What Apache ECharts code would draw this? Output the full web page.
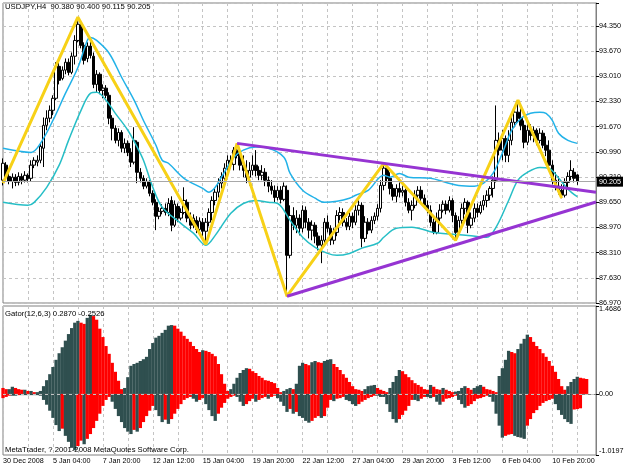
<!DOCTYPE html>
<html><head><meta charset="utf-8">
<script src="https://cdn.jsdelivr.net/npm/echarts/dist/echarts.min.js"></script>
<style>html,body{margin:0;padding:0;background:#fff}#c{width:627px;height:470px}</style>
</head><body><div id="c"></div>
<script>
// ---------- data ----------
const priceTicks = ['86.970','87.630','88.310','88.970','89.650','90.310','90.990','91.670','92.330','93.010','93.670','94.350'];
const xTickBars = [0,16,32,48,64,80,96,112,128,144,160,176];
const xTickLabels = ['30 Dec 2008','5 Jan 04:00','7 Jan 20:00','12 Jan 12:00','15 Jan 04:00','19 Jan 20:00','22 Jan 12:00','27 Jan 04:00','29 Jan 20:00','3 Feb 12:00','6 Feb 04:00','10 Feb 20:00'];
const lastPrice = 90.205;
// [open, close, low, high]
const ohlc = [
[90.24,90.69,90.10,90.82],[90.64,90.34,90.24,90.72],[90.34,90.21,90.13,90.45],[90.21,90.32,90.02,90.42],[90.32,90.18,90.08,90.40],
[90.18,90.34,90.10,90.45],[90.34,90.24,90.13,90.42],[90.24,90.37,90.18,90.48],[90.37,90.29,90.18,90.42],[90.29,90.64,90.21,90.77],
[90.64,90.77,90.56,90.85],[90.72,90.77,90.61,90.90],[90.77,91.14,90.69,91.22],[91.09,91.70,90.59,91.91],[91.70,91.89,91.57,92.10],
[91.89,92.10,91.78,92.23],[92.10,92.42,91.97,92.50],[92.42,93.27,92.37,93.38],[93.27,92.90,92.79,93.38],[92.95,93.17,92.90,93.27],
[93.17,93.38,93.06,93.48],[93.38,93.11,93.03,93.48],[93.11,93.54,93.06,93.64],[93.54,93.96,93.32,94.10],[93.96,94.39,93.91,94.58],
[94.34,93.83,93.75,94.44],[93.83,93.43,93.32,93.91],[93.48,93.81,93.38,93.91],[93.81,93.56,93.48,93.96],[93.54,92.79,92.69,93.64],
[92.79,93.06,92.58,93.17],[93.06,92.63,92.53,93.11],[92.63,92.69,92.42,92.79],[92.69,92.50,92.42,92.77],[92.50,91.89,91.73,92.58],
[91.89,91.62,91.30,91.97],[91.62,91.30,91.22,91.70],[91.30,91.51,91.14,91.62],[91.51,91.09,90.98,91.57],[91.09,91.22,90.96,91.35],
[91.22,90.98,90.88,91.30],[90.98,90.72,90.59,91.09],[90.72,91.30,90.66,91.65],[91.25,90.45,90.16,91.30],[90.45,90.29,90.18,90.56],
[90.29,90.08,90.00,90.37],[90.08,90.21,90.02,90.29],[90.21,89.89,89.81,90.24],[89.89,89.65,89.57,89.97],[89.65,89.28,88.91,89.73],
[89.28,89.41,89.20,89.52],[89.41,89.49,89.33,89.60],[89.49,89.38,89.30,89.62],[89.38,89.62,89.28,89.76],[89.70,89.04,88.88,89.81],
[89.04,89.60,88.99,89.70],[89.54,89.23,89.12,89.62],[89.23,89.38,89.17,89.49],[89.38,89.70,89.33,90.05],[89.65,89.23,89.12,89.73],
[89.23,89.04,88.93,89.38],[89.04,89.23,88.96,89.33],[89.17,88.93,88.83,89.28],[88.93,89.15,88.88,89.25],[89.12,88.88,88.75,89.23],
[88.88,89.12,88.53,89.23],[89.12,89.38,89.01,89.49],[89.38,89.70,89.17,89.81],[89.70,89.92,89.57,90.02],[89.92,90.16,89.78,90.29],
[90.16,90.34,90.02,90.45],[90.29,90.56,90.18,90.69],[90.56,90.77,90.45,90.90],[90.77,90.66,90.56,90.90],[90.66,91.04,90.50,91.12],
[91.04,90.90,90.82,91.22],[90.90,90.64,90.50,91.09],[90.64,90.50,90.32,90.90],[90.50,90.32,90.16,90.77],[90.32,90.50,90.10,90.72],
[90.50,90.64,90.37,90.90],[90.64,90.50,90.34,91.04],[90.50,90.37,90.24,90.61],[90.37,90.45,90.24,90.64],[90.45,90.24,90.08,90.56],
[90.24,90.08,89.92,90.34],[90.08,89.97,89.86,90.24],[89.97,89.78,89.65,90.10],[89.78,89.97,89.70,90.08],[89.97,89.73,89.62,90.08],
[89.73,90.08,89.68,90.18],[89.97,88.24,87.15,90.10],[88.24,89.30,88.16,89.57],[89.30,89.04,88.91,89.52],[89.04,89.23,88.83,89.44],
[89.23,88.96,88.77,89.33],[88.96,89.44,88.85,89.57],[89.44,89.12,88.96,89.54],[89.12,88.91,88.69,89.23],[88.91,89.04,88.64,89.17],
[89.04,88.75,88.56,89.12],[88.75,88.51,88.37,88.85],[88.51,88.64,88.03,88.77],[88.64,89.12,88.53,89.23],[89.12,88.96,88.85,89.30],
[88.96,88.64,88.51,89.04],[88.64,88.85,88.53,88.96],[88.85,89.30,88.75,89.44],[89.30,89.38,89.17,89.52],[89.38,89.12,89.01,89.49],
[89.12,89.01,88.91,89.23],[89.01,89.28,88.91,89.38],[89.28,89.12,88.96,89.38],[89.12,89.44,89.04,89.57],[89.44,89.57,89.30,89.70],
[89.57,88.69,88.45,89.65],[88.69,89.12,88.59,89.28],[89.12,88.91,88.80,89.23],[88.91,89.17,88.83,89.28],[89.17,89.28,89.07,89.38],
[89.28,89.49,89.17,89.60],[89.49,90.10,89.38,90.24],[90.10,90.56,89.97,90.69],[90.56,90.29,90.18,90.61],[90.29,90.02,89.86,90.45],
[90.02,89.81,89.70,90.13],[89.81,90.02,89.65,90.13],[90.02,89.92,89.78,90.18],[89.92,89.97,89.81,90.08],[89.97,89.65,89.54,90.02],
[89.65,89.44,89.36,89.76],[89.44,89.57,89.17,89.70],[89.57,89.84,89.49,89.97],[89.84,89.97,89.70,90.08],[89.97,89.76,89.65,90.08],
[89.76,89.57,89.49,89.86],[89.57,89.44,89.36,89.70],[89.44,89.12,89.01,89.57],[89.12,88.85,88.80,89.23],[88.85,89.23,88.80,89.38],
[89.23,89.44,89.12,89.60],[89.44,89.60,89.38,89.70],[89.60,89.44,89.33,89.70],[89.44,89.70,89.38,89.81],[89.70,89.30,89.12,89.76],
[89.30,88.85,88.64,89.38],[88.85,89.17,88.80,89.28],[89.17,89.49,89.07,89.62],[89.49,89.65,89.33,89.76],[89.65,89.04,88.83,89.70],
[89.04,89.23,88.96,89.38],[89.23,89.49,89.12,89.62],[89.49,89.38,89.25,89.62],[89.38,89.57,89.33,89.68],[89.57,89.70,89.44,89.84],
[89.70,89.84,89.52,89.97],[89.84,90.02,89.70,90.08],[90.02,90.24,89.78,90.34],[90.24,91.30,90.18,92.23],[91.30,91.04,90.90,91.51],
[91.04,91.35,90.77,91.57],[91.35,90.90,90.72,91.43],[90.90,91.30,90.72,91.57],[91.30,91.78,91.17,91.97],[91.78,92.05,91.65,92.21],
[92.05,91.89,91.78,92.37],[91.89,91.70,91.57,92.21],[91.70,91.25,91.09,91.83],[91.25,91.57,91.17,91.78],[91.57,91.43,91.30,91.73],
[91.43,91.57,91.25,91.67],[91.57,91.30,91.17,91.62],[91.30,91.49,91.22,91.62],[91.49,91.17,91.09,91.57],[91.17,91.04,90.88,91.41],
[91.04,90.64,90.56,91.30],[90.64,90.24,90.13,90.77],[90.24,90.08,89.97,90.45],[90.08,89.97,89.86,90.34],[89.97,89.84,89.76,90.13],
[89.84,90.18,89.78,90.29],[90.18,90.34,90.02,90.45],[90.34,90.50,90.24,90.77],[90.45,90.29,90.18,90.56],[90.38,90.205,90.115,90.40]
];
// upper / lower bands : [bar, price]
const upperBand = [[0,91.09],[9,90.98],[12,91.22],[16,91.83],[20,92.55],[24,93.24],[27,93.96],[28,94.04],[30,93.96],[34,93.62],[38,92.98],[42,92.37],[45,91.83],[49,91.17],[51,90.77],[53,90.69],[58,90.29],[64,90.02],[66,89.92],[68,90.05],[70,90.32],[74,90.85],[77,91.04],[81,91.12],[85,91.09],[90,90.85],[92,90.42],[96,89.97],[100,89.76],[103,89.65],[107,89.68],[111,89.76],[113,89.84],[117,89.97],[122,90.37],[124,90.32],[127,90.42],[130,90.32],[137,90.29],[142,90.18],[146,90.10],[151,90.08],[154,90.16],[157,90.42],[160,90.96],[163,91.57],[166,91.89],[169,92.02],[172,92.05],[174,92.02],[176,91.83],[178,91.49],[181,91.30],[184,91.22]];
const lowerBand = [[0,89.65],[8,89.57],[10,89.65],[14,90.05],[18,90.64],[21,91.30],[25,92.10],[28,92.55],[30,92.58],[33,92.37],[36,92.02],[40,91.57],[43,91.12],[45,90.77],[48,90.05],[51,89.52],[57,89.09],[61,88.83],[65,88.51],[68,88.77],[73,89.36],[77,89.62],[81,89.70],[85,89.65],[88,89.62],[92,89.17],[96,88.72],[100,88.45],[104,88.29],[107,88.24],[111,88.29],[115,88.43],[120,88.56],[122,88.72],[126,88.96],[131,88.99],[138,88.85],[149,88.77],[155,88.72],[158,88.99],[162,89.70],[165,90.24],[168,90.45],[172,90.58],[175,90.55],[178,90.30],[181,90.00],[184,89.80]];
const zigzag = [[0,90.16],[24,94.58],[65,88.53],[75,91.22],[91,87.15],[122,90.69],[145,88.64],[165,92.37],[179,89.76]];
const trendUpper = [[75,91.22],[190,89.92]];
const trendLower = [[91,87.15],[190,89.66]];
const gatorUp = [
.10,.08,.08,.12,.10,.08,.07,.07,.05,.05,
.03,.03,.05,.13,.23,.33,.45,.57,.68,.78,
.89,1.00,1.10,1.19,1.22,1.19,1.17,1.27,1.32,1.30,
1.24,1.09,.95,.80,.67,.52,.37,.22,.08,.10,
.28,.47,.50,.52,.55,.58,.62,.75,.85,.94,
.97,1.02,1.07,1.14,1.15,1.14,1.09,1.04,.97,.92,
.87,.80,.75,.70,.73,.72,.70,.67,.63,.50,
.33,.17,.05,.08,.17,.27,.35,.40,.43,.42,
.38,.35,.30,.27,.23,.22,.20,.18,.10,.03,
.05,.08,.10,.08,.17,.47,.52,.50,.48,.53,
.55,.53,.52,.55,.57,.58,.50,.45,.40,.33,
.27,.20,.13,.08,.07,.05,.08,.13,.14,.15,
.10,.07,.05,.03,.10,.20,.30,.40,.38,.33,
.28,.23,.18,.15,.12,.08,.07,.15,.12,.08,
.07,.10,.07,.05,.03,.04,.05,.10,.13,.10,
.07,.10,.13,.15,.12,.08,.07,.05,.03,.30,
.43,.57,.72,.70,.68,.75,.84,.92,.99,.95,
.87,.80,.75,.68,.62,.55,.47,.37,.25,.13,
.07,.13,.20,.25,.287,.27,.26,.25];
const gatorDown = [
-.07,-.05,-.03,-.03,-.03,-.02,-.02,-.02,-.02,-.02,
-.02,-.02,-.03,-.10,-.18,-.28,-.40,-.52,-.62,-.58,
-.70,-.80,-.90,-.94,-.87,-.78,-.84,-.75,-.67,-.57,
-.45,-.33,-.20,-.10,-.05,-.13,-.25,-.37,-.47,-.57,
-.63,-.67,-.60,-.63,-.57,-.47,-.37,-.28,-.20,-.27,
-.37,-.47,-.43,-.50,-.42,-.33,-.25,-.17,-.10,-.07,
-.05,-.08,-.13,-.10,-.07,-.17,-.27,-.37,-.45,-.33,
-.23,-.15,-.08,-.05,-.03,-.05,-.13,-.20,-.17,-.12,
-.08,-.13,-.10,-.07,-.05,-.08,-.05,-.03,-.07,-.13,
-.20,-.30,-.25,-.33,-.30,-.37,-.40,-.45,-.48,-.45,
-.40,-.37,-.40,-.37,-.23,-.10,-.12,-.08,-.07,-.05,
-.10,-.12,-.17,-.20,-.17,-.13,-.10,-.07,-.05,-.03,
-.03,-.05,-.05,-.17,-.30,-.42,-.48,-.42,-.35,-.28,
-.20,-.10,-.10,-.12,-.08,-.05,-.05,-.07,-.05,-.13,
-.18,-.13,-.08,-.07,-.05,-.03,-.10,-.17,-.23,-.20,
-.17,-.12,-.08,-.07,-.05,-.03,-.05,-.13,-.33,-.53,
-.73,-.70,-.68,-.67,-.70,-.72,-.73,-.75,-.53,-.42,
-.32,-.27,-.20,-.15,-.12,-.10,-.08,-.17,-.27,-.35,
-.42,-.47,-.50,-.26,-.2526,-.24];
const gatorTicks = [-1.0197, 0, 1.4686];

// ---------- chart ----------
const BAR_COUNT = 191;
const cats = Array.from({length: BAR_COUNT}, (_, i) => String(i));
const PMIN = 86.97, PSTEP = 0.670909, PMAX = 94.957;
const FONT = 'Liberation Sans';
const DARK = '#2f4f4f', RED = '#ff0000';
const GRID_LINE = {color: '#c4c4c4', type: [3, 3], width: 1};
const isLabelBar = (i) => xTickBars.indexOf(Number(i)) >= 0;

function gatorColor(arr) {
  return (p) => {
    const i = p.dataIndex;
    if (i === 0) return RED;
    return Math.abs(arr[i]) >= Math.abs(arr[i - 1]) ? DARK : RED;
  };
}

const chart = echarts.init(document.getElementById('c'), null, {renderer: 'canvas'});
chart.setOption({
  animation: false,
  backgroundColor: '#ffffff',
  textStyle: {fontFamily: FONT},
  grid: [
    {left: 3, right: 31, top: 3, height: 300, show: true, borderColor: '#808080', borderWidth: 1, backgroundColor: '#fff'},
    {left: 3, right: 31, top: 306, height: 149, show: true, borderColor: '#808080', borderWidth: 1, backgroundColor: '#fff'}
  ],
  xAxis: [
    {type: 'category', gridIndex: 0, data: cats, boundaryGap: false,
     axisLine: {show: false}, axisTick: {show: false}, axisLabel: {show: false},
     splitLine: {show: true, interval: (i) => i % 8 === 0, lineStyle: GRID_LINE}},
    {type: 'category', gridIndex: 1, data: cats, boundaryGap: false,
     axisLine: {show: true, lineStyle: {color: '#808080'}},
     axisTick: {show: true, interval: (i) => isLabelBar(i), length: 3, lineStyle: {color: '#000'}},
     axisLabel: {show: true, interval: (i) => isLabelBar(i), align: 'left', margin: 3,
       fontSize: 7.2, color: '#000', fontFamily: FONT,
       formatter: (v) => { const j = xTickBars.indexOf(Number(v)); return j >= 0 ? xTickLabels[j] : ''; }},
     splitLine: {show: true, interval: (i) => i % 8 === 0, lineStyle: GRID_LINE}}
  ],
  yAxis: [
    {type: 'value', gridIndex: 0, position: 'right', min: PMIN, max: PMAX, interval: PSTEP,
     axisLine: {show: true, lineStyle: {color: '#808080'}},
     axisTick: {show: true, length: 3, lineStyle: {color: '#000'}},
     axisLabel: {fontSize: 7.2, color: '#000', margin: 3, fontFamily: FONT,
       formatter: (v) => { const i = Math.round((v - PMIN) / PSTEP);
         return (i >= 0 && i < priceTicks.length && Math.abs(v - (PMIN + i * PSTEP)) < 1e-4) ? priceTicks[i] : ''; }},
     splitLine: {show: true, lineStyle: GRID_LINE}},
    {type: 'value', gridIndex: 1, position: 'right', min: gatorTicks[0], max: gatorTicks[2], interval: -gatorTicks[0],
     axisLine: {show: true, lineStyle: {color: '#808080'}},
     axisTick: {show: true, length: 3, customValues: gatorTicks, lineStyle: {color: '#000'}},
     axisLabel: {fontSize: 7.2, color: '#000', margin: 3, fontFamily: FONT, customValues: gatorTicks,
       verticalAlignMaxLabel: 'top', verticalAlignMinLabel: 'bottom',
       formatter: (v) => { if (Math.abs(v) < 1e-9) return '0.00';
         if (Math.abs(v - gatorTicks[0]) < 1e-6) return gatorTicks[0].toFixed(4);
         if (Math.abs(v - gatorTicks[2]) < 1e-6) return gatorTicks[2].toFixed(4); return ''; }},
     splitLine: {show: false}}
  ],
  graphic: [
    {type: 'text', left: 5, top: 3, z: 100, style: {text: 'USDJPY,H4  90.380 90.400 90.115 90.205', font: '7.7px "Liberation Sans"', fill: '#000'}},
    {type: 'text', left: 5, top: 310, z: 100, style: {text: 'Gator(12,6,3) 0.2870 -0.2526', font: '7.7px "Liberation Sans"', fill: '#000'}},
    {type: 'text', left: 5, top: 446, z: 100, style: {text: 'MetaTrader, ? 2001-2008 MetaQuotes Software Corp.', font: '7.7px "Liberation Sans"', fill: '#000'}}
  ],
  series: [
    {type: 'candlestick', name: 'USDJPY', xAxisIndex: 0, yAxisIndex: 0, data: ohlc, barWidth: 3, clip: true,
     itemStyle: {color: '#ffffff', color0: '#000000', borderColor: '#000000', borderColor0: '#000000', borderWidth: 1},
     markLine: {symbol: 'none', silent: true, animation: false,
       lineStyle: {color: '#a8a8a8', type: 'solid', width: 1},
       label: {show: true, position: 'end', distance: 1, formatter: () => lastPrice.toFixed(3),
         backgroundColor: '#000', color: '#fff', padding: [2, 2, 1, 2], fontSize: 7.2, fontFamily: FONT},
       data: [{yAxis: lastPrice}]}},
    {type: 'line', name: 'upper', xAxisIndex: 0, yAxisIndex: 0, data: upperBand, smooth: 0.35, showSymbol: false,
     lineStyle: {color: '#22b2e8', width: 1.5}},
    {type: 'line', name: 'lower', xAxisIndex: 0, yAxisIndex: 0, data: lowerBand, smooth: 0.35, showSymbol: false,
     lineStyle: {color: '#26bec6', width: 1.5}},
    {type: 'line', name: 'zigzag', xAxisIndex: 0, yAxisIndex: 0, data: zigzag, showSymbol: false,
     lineStyle: {color: '#f7d117', width: 3}},
    {type: 'line', name: 'trendUpper', xAxisIndex: 0, yAxisIndex: 0, data: trendUpper, showSymbol: false,
     lineStyle: {color: '#9634d2', width: 3}},
    {type: 'line', name: 'trendLower', xAxisIndex: 0, yAxisIndex: 0, data: trendLower, showSymbol: false,
     lineStyle: {color: '#9634d2', width: 3}},
    {type: 'bar', name: 'gatorUp', xAxisIndex: 1, yAxisIndex: 1, data: gatorUp, barWidth: 3.3, barGap: '-100%', clip: true,
     itemStyle: {color: gatorColor(gatorUp)},
     markLine: {symbol: 'none', silent: true, label: {show: false}, lineStyle: GRID_LINE, data: [{yAxis: 0}]}},
    {type: 'bar', name: 'gatorDown', xAxisIndex: 1, yAxisIndex: 1, data: gatorDown, barWidth: 3.3, barGap: '-100%', clip: true,
     itemStyle: {color: gatorColor(gatorDown)}}
  ]
});
</script></body></html>
